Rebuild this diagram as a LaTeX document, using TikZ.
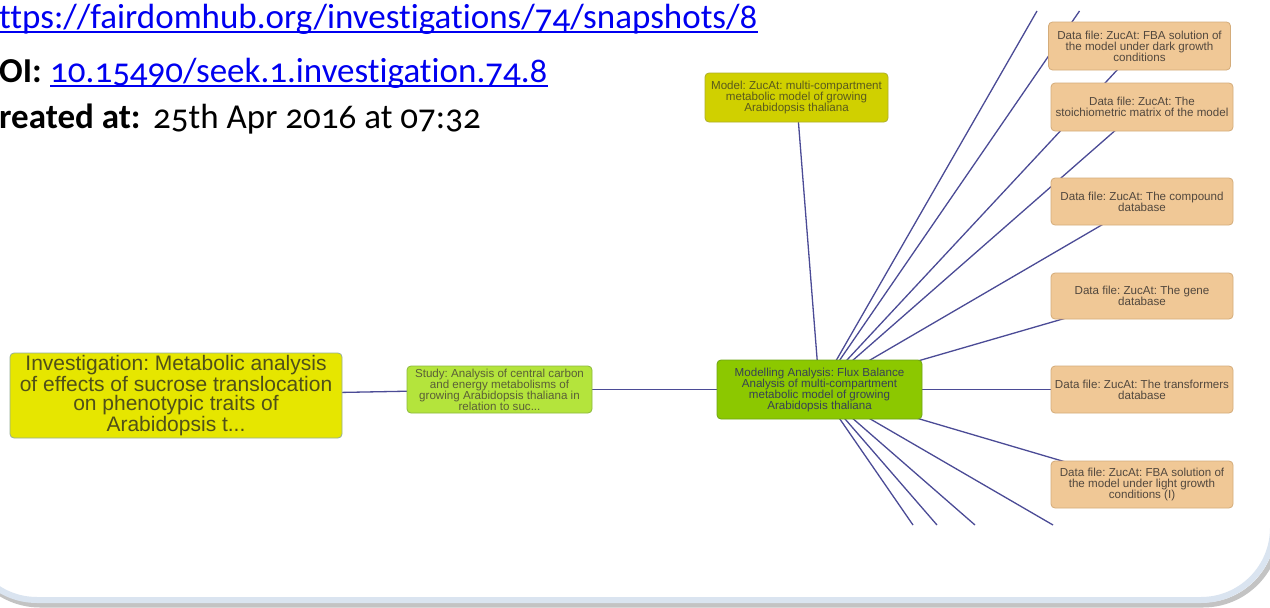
\documentclass[tikz,border=0pt]{standalone}
\usepackage{fontspec}
\usetikzlibrary{calc,backgrounds}
\newfontfamily\webfont[Numbers=OldStyle,Ligatures=NoCommon]{Carlito}
\newfontfamily\arialf{Liberation Sans}
\frenchspacing
\definecolor{linkblue}{RGB}{0,0,240}
\definecolor{invfill}{RGB}{230,230,0}
\definecolor{invdraw}{RGB}{150,175,150}
\definecolor{invtext}{RGB}{80,80,25}
\definecolor{studyfill}{RGB}{180,228,60}
\definecolor{studydraw}{RGB}{140,185,60}
\definecolor{studytext}{RGB}{90,95,55}
\definecolor{modafill}{RGB}{140,200,0}
\definecolor{modadraw}{RGB}{110,165,20}
\definecolor{modatext}{RGB}{55,65,85}
\definecolor{modelfill}{RGB}{208,208,0}
\definecolor{modeldraw}{RGB}{175,175,40}
\definecolor{modeltext}{RGB}{90,90,28}
\definecolor{datafill}{RGB}{240,200,150}
\definecolor{datadraw}{RGB}{212,172,122}
\definecolor{datatext}{RGB}{82,72,62}
\definecolor{edgecol}{RGB}{75,75,150}
\definecolor{bandcol}{RGB}{218,228,240}
\definecolor{shadowcol}{RGB}{195,195,195}
\tikzset{
  web/.style={inner sep=0pt, anchor=base west, font=\webfont\fontsize{35}{42}\selectfont},
  weblink/.style={web, text=linkblue},
  uline/.style={draw=linkblue, line width=1.3pt},
  gbox/.style={rounded corners=4pt, inner sep=0pt, align=center, line width=0.8pt},
  smallfont/.style={font=\arialf\fontsize{11.6}{11}\selectfont},
  invbox/.style={gbox, fill=invfill, draw=invdraw, text=invtext, minimum width=332pt, minimum height=85pt, font=\arialf\fontsize{21}{19.5}\selectfont},
  studybox/.style={gbox, smallfont, fill=studyfill, draw=studydraw, text=studytext, minimum width=185pt, minimum height=47pt},
  modabox/.style={gbox, smallfont, fill=modafill, draw=modadraw, text=modatext, minimum width=205pt, minimum height=59pt},
  modelbox/.style={gbox, smallfont, fill=modelfill, draw=modeldraw, text=modeltext, minimum width=183pt, minimum height=49pt},
  databox/.style={gbox, smallfont, fill=datafill, draw=datadraw, text=datatext, minimum width=182pt, minimum height=47pt},
  conn/.style={draw=edgecol, line width=1.3pt},
}
\begin{document}
\begin{tikzpicture}[x=1pt,y=-1pt]
\useasboundingbox (0,0) rectangle (1270,608);
\clip (0,0) rectangle (1270,608);

% header text
\node[weblink] (url) at (-1,28) {ttps://fairdomhub.org/investigations/74/snapshots/8};
\draw[uline] ($(url.base west)+(0,4)$) -- ($(url.base east)+(0,4)$);
\node[web] (doilab) at (-1,82) {\bfseries OI:};
\node[weblink] (doi) at (50,82) {10.15490/seek.1.investigation.74.8};
\draw[uline] ($(doi.base west)+(0,4)$) -- ($(doi.base east)+(0,4)$);
\node[web] (crlab) at (-1,128) {\bfseries reated at:};
\node[web] (crdate) at (153,128) {25th Apr 2016 at 07:32};

% nodes
\node[invbox] (inv) at (176,395.5) {Investigation: Metabolic analysis\\of effects of sucrose translocation\\on phenotypic traits of\\Arabidopsis t...};
\node[studybox] (study) at (499.5,389.5) {Study: Analysis of central carbon\\and energy metabolisms of\\growing Arabidopsis thaliana in\\relation to suc...};
\node[modabox] (moda) at (819.5,389.5) {Modelling Analysis: Flux Balance\\Analysis of multi-compartment\\metabolic model of growing\\Arabidopsis thaliana};
\node[modelbox] (model) at (796.5,97.5) {Model: ZucAt: multi-compartment\\metabolic model of growing\\Arabidopsis thaliana};
\node[databox, minimum height=48pt] (d1) at (1139.5,46) {Data file: ZucAt: FBA solution of\\the model under dark growth\\conditions};
\node[databox, minimum height=48pt] (d2) at (1142,107) {Data file: ZucAt: The\\stoichiometric matrix of the model};
\node[databox] (d3) at (1142,201.5) {Data file: ZucAt: The compound\\database};
\node[databox, minimum height=46pt] (d4) at (1142,296) {Data file: ZucAt: The gene\\database};
\node[databox] (d5) at (1142,389.5) {Data file: ZucAt: The transformers\\database};
\node[databox] (d6) at (1142,484.5) {Data file: ZucAt: FBA solution of\\the model under light growth\\conditions (I)};

% free ends of connectors to nodes outside the view
\coordinate (u1) at (1037,11);
\coordinate (u2) at (1079.5,11);
\coordinate (w1) at (913,525);
\coordinate (w2) at (937,525);
\coordinate (w3) at (975,525);
\coordinate (w4) at (1053,525);

% frame
\draw[shadowcol, line width=5pt] (-35,-10) [rounded corners=75pt] -- (-35,605) -- (1278,605) [sharp corners] -- (1278,-10);
\draw[bandcol, line width=6pt] (-35,-10) [rounded corners=72pt] -- (-35,600) -- (1273,600) [sharp corners] -- (1273,-10);

\begin{scope}[on background layer]
  \fill[white] (0,0) rectangle (1270,608);
  \draw[conn] (inv.center) -- (study.center);
  \draw[conn] (study.center) -- (moda.center);
  \draw[conn] (model.center) -- (moda.center);
  \draw[conn] (moda.center) -- (u1);
  \draw[conn] (moda.center) -- (u2);
  \draw[conn] (moda.center) -- (d1.center);
  \draw[conn] (moda.center) -- (d2.center);
  \draw[conn] (moda.center) -- (d3.center);
  \draw[conn] (moda.center) -- (d4.center);
  \draw[conn] (moda.center) -- (d5.center);
  \draw[conn] (moda.center) -- (d6.center);
  \draw[conn] (moda.center) -- (w1);
  \draw[conn] (moda.center) -- (w2);
  \draw[conn] (moda.center) -- (w3);
  \draw[conn] (moda.center) -- (w4);
\end{scope}
\end{tikzpicture}
\end{document}
